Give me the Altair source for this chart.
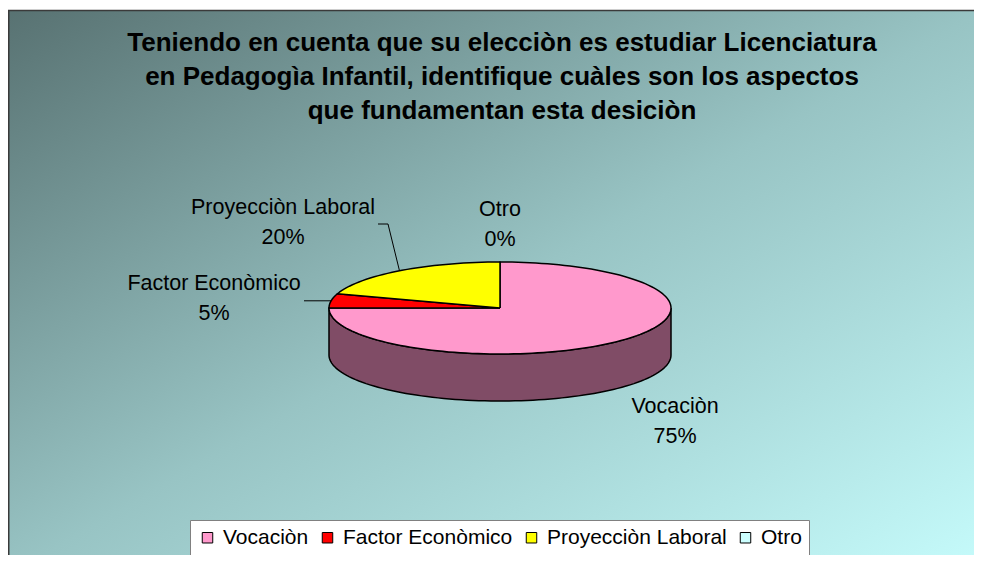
import altair as alt
import pandas as pd
import numpy as np

# ---------------- data ----------------
categories = ["Vocaciòn", "Factor Econòmico", "Proyecciòn Laboral", "Otro"]
percentages = [75, 5, 20, 0]
slice_colors = ["#ff99cc", "#ff0000", "#ffff00", "#ccffff"]
title_lines = [
    "Teniendo en cuenta que su elecciòn es estudiar Licenciatura",
    "en Pedagogìa Infantil, identifique cuàles son los aspectos",
    "que fundamentan esta desiciòn",
]

# ---------------- layout (page pixel coordinates) ----------------
W, H = 966, 547
X0, Y0 = 8, 8
CX, CY, RX, RY, DEPTH = 500, 308, 171, 46, 47
FONT = "Liberation Sans"
label_center = {
    "Vocaciòn": (675, 422),
    "Factor Econòmico": (214, 299),
    "Proyecciòn Laboral": (283, 223),
    "Otro": (500, 225),
}
leader_end = {
    "Factor Econòmico": [(304, None)],
    "Proyecciòn Laboral": [(388, 224), (378, 224)],
}


def ell(t, dy=0.0):
    r = np.radians(t)
    return CX + RX * np.sin(r), CY - RY * np.cos(r) + dy


def darker(hexc, f=0.5):
    h = hexc.lstrip("#")
    rgb = [int(h[i:i + 2], 16) for i in (0, 2, 4)]
    return "#" + "".join(f"{int(round(c * f)):02x}" for c in rgb)


total = float(sum(percentages))
top_rows, side_rows, lead_rows = [], [], []
start = 0.0
mids = {}
for cat, pct, col in zip(categories, percentages, slice_colors):
    span = 360.0 * pct / total
    end = start + span
    mids[cat] = start + span / 2
    if span > 0:
        n = max(4, int(span / 2))
        pts = [(CX, CY)] + [ell(t) for t in np.linspace(start, end, n)] + [(CX, CY)]
        for i, (x, y) in enumerate(pts):
            top_rows.append({"poly": cat, "cat": cat, "i": i, "x": x, "y": y})
        # visible side wall (front half: 90..270 deg)
        a, b = max(start, 90.0), min(end, 270.0)
        if b > a:
            m = max(4, int((b - a) / 2))
            ts = np.linspace(a, b, m)
            pts = [ell(t) for t in ts] + [ell(t, DEPTH) for t in ts[::-1]]
            pts.append(pts[0])
            for i, (x, y) in enumerate(pts):
                side_rows.append({"poly": cat + "_side", "i": i, "x": x, "y": y,
                                  "col": darker(col)})
    start = end

for cat, ends in leader_end.items():
    rx0, ry0 = ell(mids[cat])
    pts = [(rx0, ry0)] + [(ex, ry0 if ey is None else ey) for ex, ey in ends]
    for i, (x, y) in enumerate(pts):
        lead_rows.append({"poly": cat, "i": i, "x": x, "y": y})

label_rows = []
for cat, pct in zip(categories, percentages):
    lx, ly = label_center[cat]
    label_rows.append({"x": lx, "y": ly - 15, "t": cat})
    label_rows.append({"x": lx, "y": ly + 15, "t": f"{pct}%"})

title_rows = [{"x": 502, "y": 43 + 34 * k, "t": t} for k, t in enumerate(title_lines)]

xs = alt.Scale(domain=[X0, X0 + W], nice=False, zero=False)
ys = alt.Scale(domain=[Y0 + H, Y0], nice=False, zero=False)
X = alt.X("x:Q", scale=xs, axis=None)
Y = alt.Y("y:Q", scale=ys, axis=None)

bg = alt.Chart(pd.DataFrame({"a": [0]})).mark_rect(
    fill=alt.Gradient(
        gradient="linear",
        stops=[alt.GradientStop(color="#587272", offset=0),
               alt.GradientStop(color="#98c4c4", offset=0.5),
               alt.GradientStop(color="#c6fcfc", offset=1)],
        x1=0, y1=0, x2=1, y2=1,
    ),
    stroke="#3a3a3a", strokeWidth=1.5,
).encode(x=alt.value(0.75), x2=alt.value(W + 10), y=alt.value(2.5), y2=alt.value(H + 20))

side = alt.Chart(pd.DataFrame(side_rows)).mark_line(
    stroke="black", strokeWidth=1.5, strokeJoin="round"
).encode(x=X, y=Y, detail="poly:N", order="i:Q",
         fill=alt.Fill("col:N", scale=None))

top = alt.Chart(pd.DataFrame(top_rows)).mark_line(
    stroke="black", strokeWidth=1.5, strokeJoin="round"
).encode(
    x=X, y=Y, detail="poly:N", order="i:Q",
    fill=alt.Fill(
        "cat:N",
        scale=alt.Scale(domain=categories, range=slice_colors),
        legend=alt.Legend(
            title=None, orient="none", direction="horizontal",
            legendX=182, legendY=512,
            fillColor="white", strokeColor="#808080", padding=7,
            symbolType="square", symbolSize=110, symbolStrokeColor="black",
            symbolStrokeWidth=1, symbolOpacity=1,
            labelFont=FONT, labelFontSize=21, labelColor="black",
            labelOffset=5, columnPadding=8, labelLimit=400,
        ),
    ),
)

leaders = alt.Chart(pd.DataFrame(lead_rows)).mark_line(
    stroke="black", strokeWidth=1
).encode(x=X, y=Y, detail="poly:N", order="i:Q")

labels = alt.Chart(pd.DataFrame(label_rows)).mark_text(
    font=FONT, fontSize=21.5, color="black", baseline="middle", align="center"
).encode(x=X, y=Y, text="t:N")

title = alt.Chart(pd.DataFrame(title_rows)).mark_text(
    font=FONT, fontSize=26, fontWeight="bold", color="black",
    baseline="middle", align="center"
).encode(x=X, y=Y, text="t:N")

chart = alt.layer(bg, side, top, leaders, labels, title).properties(
    width=W, height=H,
    autosize=alt.AutoSizeParams(type="none"),
    padding=0,
).configure_view(stroke=None, clip=True)

chart.save("out.html", embed_options={"renderer": "svg", "actions": False})
